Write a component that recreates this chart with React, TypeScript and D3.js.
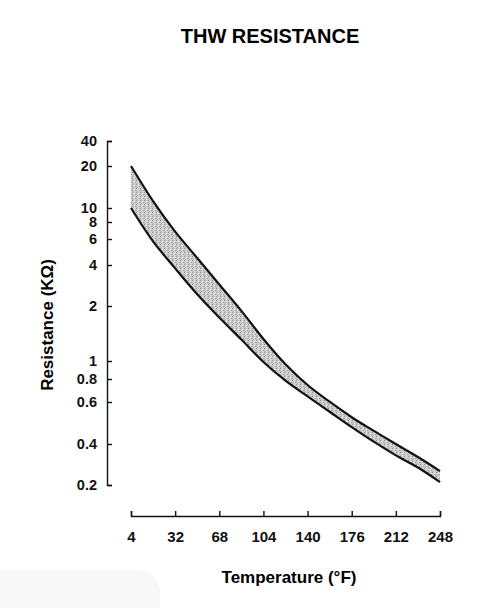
import { useEffect, useRef } from 'react';
import * as d3 from 'd3';

// temperature (°F) where the two limit curves were read
const temps = [-4, 14, 32, 50, 68, 86, 104, 122, 140, 158, 176, 194, 212, 230, 248];
// resistance (kΩ), upper and lower limit of the band
const upperK = [20, 11.2, 6.79, 4.46, 2.88, 1.88, 1.32, 0.96, 0.742, 0.602, 0.518, 0.454, 0.4, 0.321, 0.253];
const lowerK = [10, 5.78, 3.78, 2.44, 1.73, 1.31, 0.988, 0.784, 0.644, 0.546, 0.471, 0.409, 0.33, 0.269, 0.21];

const xTicks = [-4, 32, 68, 104, 140, 176, 212, 248];
const xTickLabels = ['4', '32', '68', '104', '140', '176', '212', '248'];
const yTicks = [40, 20, 10, 8, 6, 4, 2, 1, 0.8, 0.6, 0.4, 0.2];
const yTickLabels = ['40', '20', '10', '8', '6', '4', '2', '1', '0.8', '0.6', '0.4', '0.2'];

// the printed axis is not a true log axis, so each tick gets its own stop
const yStops = [141, 166, 208, 222, 239, 265, 306, 361, 379, 402, 444, 485];

const W = 504;
const H = 608;
const FONT = '"Liberation Sans", Arial, Helvetica, sans-serif';

export default function App() {
  const svgRef = useRef<SVGSVGElement>(null);

  useEffect(() => {
    document.body.style.margin = '0';
    if (!svgRef.current) return;

    const svg = d3.select(svgRef.current);
    svg.selectAll('*').remove();
    svg.attr('width', W).attr('height', H);

    const x = d3.scaleLinear().domain([-4, 248]).range([131, 440]);
    const y = d3.scaleLog().domain(yTicks).range(yStops);
    const yAxisX = 107;
    const xAxisY = 516;

    // faint scan smudge bottom left
    svg.append('rect')
      .attr('x', -20).attr('y', 570).attr('width', 180).attr('height', 60)
      .attr('rx', 22).attr('fill', '#f8f8f8');

    // stippled grey for the band
    const defs = svg.append('defs');
    const pat = defs.append('pattern')
      .attr('id', 'stipple')
      .attr('width', 4).attr('height', 4)
      .attr('patternUnits', 'userSpaceOnUse');
    pat.append('rect').attr('width', 4).attr('height', 4).attr('fill', '#cdcdcd');
    [[0, 0, '#8e8e8e'], [2, 1, '#ececec'], [3, 2, '#a0a0a0'], [1, 3, '#b0b0b0'], [2, 3, '#e4e4e4'], [0, 2, '#bababa']]
      .forEach(([px, py, c]) => {
        pat.append('rect')
          .attr('x', px).attr('y', py).attr('width', 1).attr('height', 1)
          .attr('fill', c as string);
      });

    svg.append('text')
      .attr('x', 270).attr('y', 43)
      .attr('text-anchor', 'middle')
      .style('font-family', FONT)
      .style('font-weight', 'bold')
      .style('font-size', '20px')
      .text('THW RESISTANCE');

    const rows = temps.map((t, i) => ({ t, hi: upperK[i], lo: lowerK[i] }));

    const area = d3.area<typeof rows[0]>()
      .x(d => x(d.t))
      .y0(d => y(d.lo))
      .y1(d => y(d.hi))
      .curve(d3.curveCatmullRom);

    svg.append('path')
      .datum(rows)
      .attr('d', area)
      .attr('fill', 'url(#stipple)');

    const line = (key: 'hi' | 'lo') => d3.line<typeof rows[0]>()
      .x(d => x(d.t))
      .y(d => y(d[key]))
      .curve(d3.curveCatmullRom);

    (['hi', 'lo'] as const).forEach(k => {
      svg.append('path')
        .datum(rows)
        .attr('d', line(k))
        .attr('fill', 'none')
        .attr('stroke', '#111')
        .attr('stroke-width', 2.2);
    });

    // y axis, ticks pointing inward
    const yAxis = d3.axisLeft(y)
      .tickValues(yTicks)
      .tickFormat((_, i) => yTickLabels[i])
      .tickSizeInner(-5)
      .tickSizeOuter(-5)
      .tickPadding(10);

    const gy = svg.append('g')
      .attr('transform', `translate(${yAxisX},0)`)
      .call(yAxis);
    gy.select('.domain').attr('stroke', '#111').attr('stroke-width', 1.4);
    gy.selectAll('.tick line').attr('stroke', '#111').attr('stroke-width', 1.4);
    gy.selectAll('.tick text')
      .style('font-family', FONT)
      .style('font-weight', 'bold')
      .style('font-size', '14.5px')
      .attr('fill', '#111');

    // x axis, ticks pointing up
    const xAxis = d3.axisBottom(x)
      .tickValues(xTicks)
      .tickFormat((_, i) => xTickLabels[i])
      .tickSizeInner(-5)
      .tickSizeOuter(-5)
      .tickPadding(15);

    const gx = svg.append('g')
      .attr('transform', `translate(0,${xAxisY})`)
      .call(xAxis);
    gx.select('.domain').attr('stroke', '#111').attr('stroke-width', 1.4);
    gx.selectAll('.tick line').attr('stroke', '#111').attr('stroke-width', 1.4);
    gx.selectAll('.tick text')
      .style('font-family', FONT)
      .style('font-weight', 'bold')
      .style('font-size', '15px')
      .attr('fill', '#111');

    svg.append('text')
      .attr('transform', `translate(53,325) rotate(-90)`)
      .attr('text-anchor', 'middle')
      .style('font-family', FONT)
      .style('font-weight', 'bold')
      .style('font-size', '17px')
      .text('Resistance (KΩ)');

    svg.append('text')
      .attr('x', 289).attr('y', 583)
      .attr('text-anchor', 'middle')
      .style('font-family', FONT)
      .style('font-weight', 'bold')
      .style('font-size', '17px')
      .text('Temperature (°F)');
  }, []);

  return (
    <div style={{ position: 'absolute', left: 0, top: 0 }}>
      <svg ref={svgRef} style={{ display: 'block' }}></svg>
    </div>
  );
}
